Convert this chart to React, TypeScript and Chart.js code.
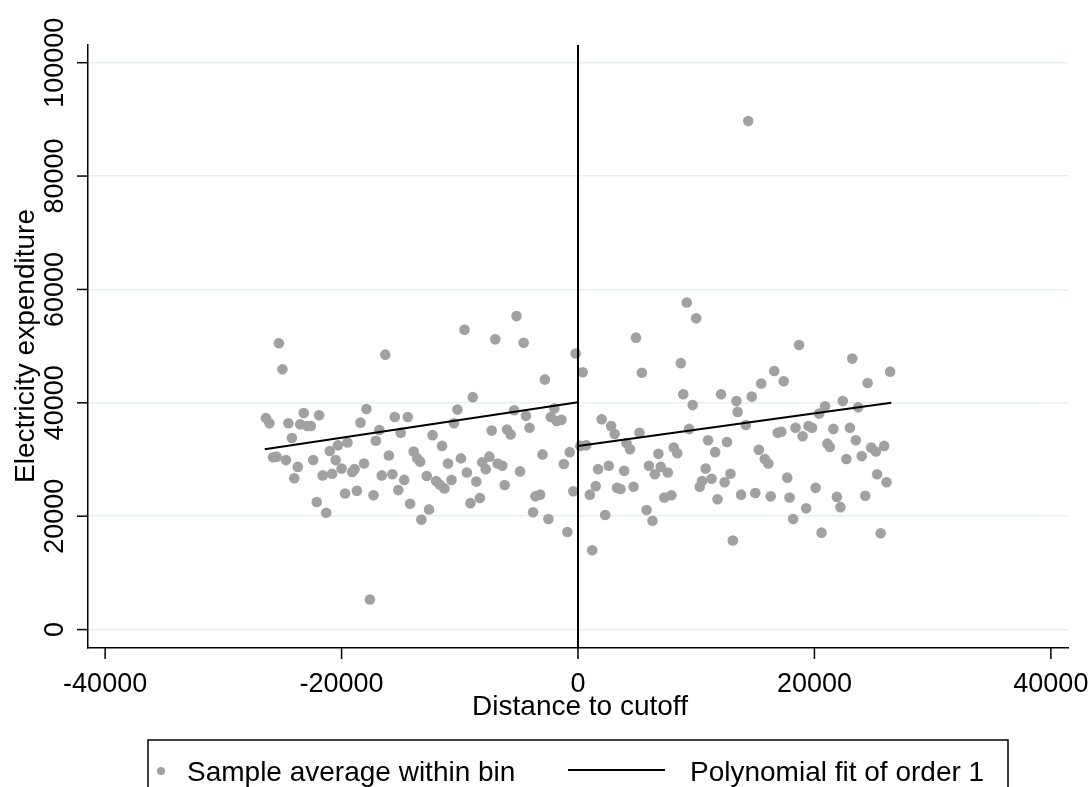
import React, { useEffect, useRef } from 'react';
import { Chart, registerables } from 'chart.js';

Chart.register(...registerables);

// Binned sample averages: distance to cutoff (x) and electricity expenditure (y)
const binX: number[] = [
  -26400, -26100, -25800, -25500, -25300, -25000, -24700, -24500, -24200, -24000,
  -23700, -23500, -23200, -22900, -22600, -22400, -22100, -21900, -21600, -21300,
  -21000, -20800, -20500, -20300, -20000, -19700, -19500, -19100, -18900, -18700,
  -18400, -18100, -17900, -17600, -17300, -17100, -16800, -16600, -16300, -16000,
  -15700, -15500, -15200, -15000, -14700, -14400, -14200, -13900, -13600, -13350,
  -13250, -12800, -12600, -12300, -12000, -11700, -11500, -11300, -11000, -10700,
  -10500, -10200, -9900, -9600, -9400, -9100, -8900, -8600, -8300, -8100,
  -7800, -7500, -7300, -7000, -6800, -6400, -6200, -6000, -5700, -5400,
  -5200, -4900, -4600, -4400, -4100, -3800, -3600, -3200, -3000, -2800,
  -2500, -2300, -2000, -1800, -1400, -1200, -900, -700, -400, -200,
  200, 400, 700, 1000, 1200, 1500, 1700, 2000, 2300, 2600,
  2800, 3100, 3300, 3600, 3900, 4100, 4400, 4700, 4900, 5200,
  5400, 5800, 6000, 6300, 6500, 6800, 7000, 7300, 7600, 7900,
  8100, 8400, 8700, 8900, 9200, 9400, 9700, 10000, 10300, 10500,
  10800, 11000, 11300, 11600, 11800, 12100, 12400, 12600, 12900, 13100,
  13400, 13500, 13800, 14200, 14400, 14700, 15000, 15300, 15500, 15800,
  16100, 16300, 16600, 16900, 17200, 17400, 17700, 17900, 18200, 18400,
  18700, 19000, 19300, 19500, 19800, 20100, 20400, 20600, 20900, 21100,
  21300, 21600, 21900, 22200, 22400, 22700, 23000, 23200, 23500, 23700,
  24000, 24300, 24500, 24800, 25200, 25300, 25600, 25900, 26100, 26400,
];
const binY: number[] = [
  37300, 36400, 30400, 30500, 50500, 45900, 29900, 36400, 33800, 26700,
  28700, 36200, 38200, 35900, 35900, 29900, 22500, 37800, 27200, 20600,
  31500, 27500, 29900, 32500, 28400, 24000, 33000, 27800, 28300, 24500,
  36500, 29300, 38900, 5300, 23700, 33300, 35200, 27200, 48500, 30700,
  27400, 37500, 24600, 34700, 26400, 37500, 22200, 31400, 30200, 29600,
  19400, 27100, 21200, 34300, 26200, 25600, 32400, 24900, 29300, 26400,
  36400, 38800, 30200, 52900, 27700, 22300, 41000, 26100, 23200, 29500,
  28300, 30500, 35100, 51200, 29300, 28900, 25500, 35300, 34400, 38700,
  55300, 27900, 50600, 37700, 35600, 20700, 23500, 23800, 30900, 44100,
  19500, 37500, 39000, 36800, 37000, 29200, 17200, 31300, 24400, 48700,
  32400, 45400, 32500, 23800, 14000, 25300, 28300, 37100, 20200, 28900,
  35900, 34500, 25000, 24800, 28000, 32900, 31800, 25200, 51500, 34700,
  45300, 21100, 28900, 19200, 27400, 31000, 28700, 23300, 27700, 23700,
  32100, 31100, 47000, 41500, 57700, 35400, 39600, 54900, 25200, 26200,
  28400, 33400, 26600, 31300, 23000, 41500, 26000, 33100, 27500, 15700,
  40300, 38400, 23800, 36100, 89700, 41100, 24100, 31700, 43400, 30100,
  29300, 23500, 45600, 34700, 34900, 43800, 26800, 23300, 19500, 35600,
  50200, 34100, 21400, 35900, 35600, 25000, 38100, 17100, 39400, 32800,
  32200, 35400, 23400, 21600, 40300, 30100, 35600, 47800, 33400, 39200,
  30600, 23600, 43500, 32100, 31400, 27400, 17000, 32400, 26000, 45500,
];

// Linear fits on each side of the cutoff (endpoints)
const fitLeftX: number[] = [-26500, 0];
const fitLeftY: number[] = [31800, 40100];
const fitRightX: number[] = [0, 26500];
const fitRightY: number[] = [32400, 40000];

const cutoff = 0;
const xTicks: number[] = [-40000, -20000, 0, 20000, 40000];
const yTicks: number[] = [0, 20000, 40000, 60000, 80000, 100000];
const xTitle = 'Distance to cutoff';
const yTitle = 'Electricity expenditure';
const legendLabels: string[] = ['Sample average within bin', 'Polynomial fit of order 1'];

const FONT = "'Liberation Sans', Arial, Helvetica, sans-serif";
const DOT = '#a1a1a1';
const GRID = '#e7eff1';

const decorPlugin = {
  id: 'decor',
  afterDatasetsDraw(chart: any) {
    const ctx = chart.ctx;
    const { top, bottom } = chart.chartArea;
    const cx = chart.scales.x.getPixelForValue(cutoff);
    ctx.save();
    ctx.strokeStyle = '#000';
    ctx.lineWidth = 2;
    ctx.beginPath();
    ctx.moveTo(cx, top);
    ctx.lineTo(cx, bottom);
    ctx.stroke();
    ctx.restore();
  },
  afterDraw(chart: any) {
    const ctx = chart.ctx;
    const { left, bottom } = chart.chartArea;
    const xs = chart.scales.x;
    const ys = chart.scales.y;
    ctx.save();
    ctx.strokeStyle = '#000';
    ctx.fillStyle = '#000';
    ctx.lineWidth = 1.5;
    // tick marks
    xTicks.forEach((v) => {
      const px = xs.getPixelForValue(v);
      ctx.beginPath();
      ctx.moveTo(px, bottom);
      ctx.lineTo(px, bottom + 11);
      ctx.stroke();
    });
    yTicks.forEach((v) => {
      const py = ys.getPixelForValue(v);
      ctx.beginPath();
      ctx.moveTo(left - 11, py);
      ctx.lineTo(left, py);
      ctx.stroke();
    });
    // tick labels
    ctx.font = `27px ${FONT}`;
    ctx.textAlign = 'center';
    ctx.textBaseline = 'alphabetic';
    xTicks.forEach((v) => {
      ctx.fillText(String(v), xs.getPixelForValue(v), 692);
    });
    yTicks.forEach((v) => {
      ctx.save();
      ctx.translate(63, ys.getPixelForValue(v));
      ctx.rotate(-Math.PI / 2);
      ctx.fillText(String(v), 0, 0);
      ctx.restore();
    });
    // axis titles
    ctx.font = `28px ${FONT}`;
    ctx.fillText(xTitle, 580, 715);
    ctx.save();
    ctx.translate(34, 346);
    ctx.rotate(-Math.PI / 2);
    ctx.fillText(yTitle, 0, 0);
    ctx.restore();
    // legend
    ctx.lineWidth = 1.5;
    ctx.strokeRect(148, 740, 860, 80);
    ctx.fillStyle = DOT;
    ctx.beginPath();
    ctx.arc(161, 771, 4, 0, Math.PI * 2);
    ctx.fill();
    ctx.fillStyle = '#000';
    ctx.textAlign = 'left';
    ctx.font = `28px ${FONT}`;
    ctx.fillText(legendLabels[0], 187, 781);
    ctx.lineWidth = 2;
    ctx.beginPath();
    ctx.moveTo(568, 770);
    ctx.lineTo(665, 770);
    ctx.stroke();
    ctx.fillText(legendLabels[1], 690, 781);
    ctx.restore();
  },
};

export default function App() {
  const ref = useRef<HTMLCanvasElement>(null);
  useEffect(() => {
    document.body.style.margin = '0';
    const canvas = ref.current!;
    const points = binX.map((x, i) => ({ x, y: binY[i] }));
    const fitL = fitLeftX.map((x, i) => ({ x, y: fitLeftY[i] }));
    const fitR = fitRightX.map((x, i) => ({ x, y: fitRightY[i] }));
    const chart = new Chart(canvas, {
      type: 'scatter',
      data: {
        datasets: [
          {
            label: legendLabels[1],
            data: fitL,
            showLine: true,
            borderColor: '#000',
            borderWidth: 2,
            pointRadius: 0,
            pointHoverRadius: 0,
          },
          {
            label: legendLabels[1] + ' (right)',
            data: fitR,
            showLine: true,
            borderColor: '#000',
            borderWidth: 2,
            pointRadius: 0,
            pointHoverRadius: 0,
          },
          {
            label: legendLabels[0],
            data: points,
            backgroundColor: DOT,
            borderWidth: 0,
            pointRadius: 5.3,
            pointHoverRadius: 5.3,
          },
        ],
      },
      options: {
        responsive: false,
        animation: false,
        devicePixelRatio: 1,
        events: [],
        layout: { padding: { left: 88, right: 24, top: 45, bottom: 139 } },
        plugins: {
          legend: { display: false },
          tooltip: { enabled: false },
          title: { display: false },
        },
        scales: {
          x: {
            type: 'linear',
            min: -41450,
            max: 41450,
            ticks: { display: false },
            grid: { display: false, drawTicks: false },
            border: { display: true, color: '#000', width: 1.5 },
          },
          y: {
            type: 'linear',
            min: -3250,
            max: 103120,
            afterBuildTicks: (scale: any) => {
              scale.ticks = yTicks.map((v) => ({ value: v }));
            },
            ticks: { display: false },
            grid: { display: true, drawTicks: false, color: GRID, lineWidth: 1.5 },
            border: { display: true, color: '#000', width: 1.5 },
          },
        },
      },
      plugins: [decorPlugin],
    });
    return () => chart.destroy();
  }, []);
  return (
    <canvas
      ref={ref}
      width={1092}
      height={787}
      style={{ display: 'block', width: 1092, height: 787 }}
    />
  );
}
